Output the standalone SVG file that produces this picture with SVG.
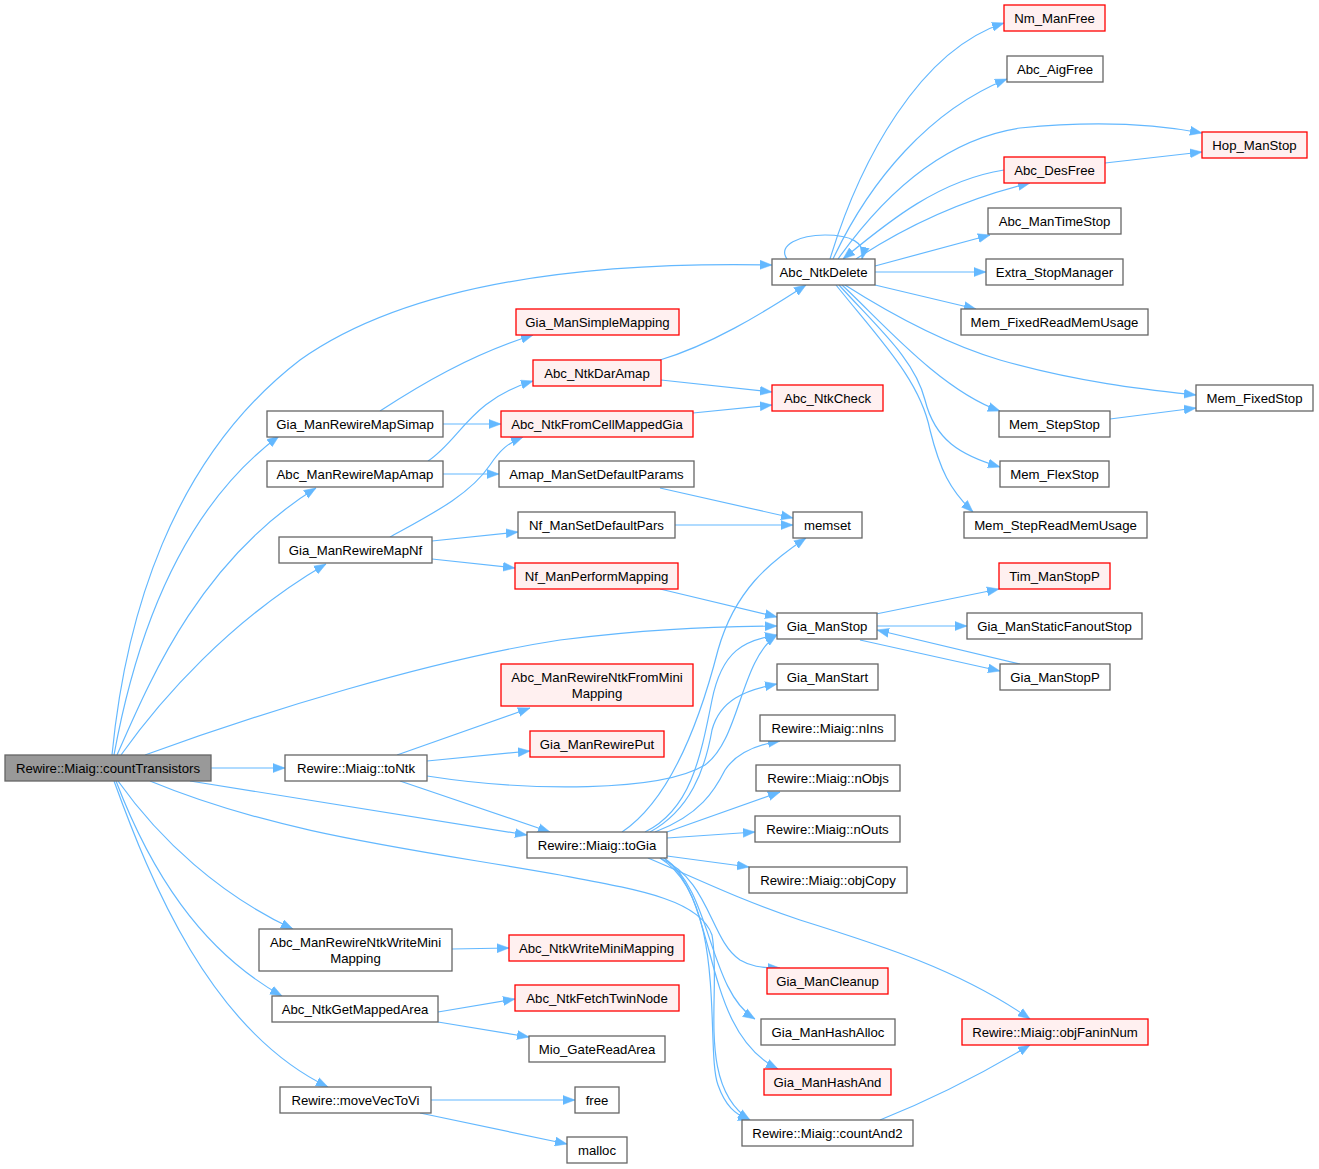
<svg xmlns="http://www.w3.org/2000/svg" width="1319" height="1169" viewBox="0 0 1319 1169">
<style>
.n rect{fill:#ffffff;stroke:#666666;stroke-width:1.3}
.r rect{fill:#fff0f0;stroke:#ff0000;stroke-width:1.3}
.root rect{fill:#999999;stroke:#666666;stroke-width:1.3}
text{font-family:"Liberation Sans",Arial,sans-serif;font-size:13.2px;fill:#000;text-anchor:middle}
.e path{fill:none;stroke:#63b8ff;stroke-width:1.2;marker-end:url(#a)}
</style>
<defs>
<marker id="a" viewBox="0 0 12 10" refX="12" refY="5" markerWidth="12" markerHeight="10" markerUnits="userSpaceOnUse" orient="auto">
<path d="M0,0.5 L12,5 L0,9.5 z" fill="#63b8ff" stroke="#63b8ff" stroke-width="0.5"/>
</marker>
</defs>
<rect width="1319" height="1169" fill="#ffffff"/>
<g class="e" id="edges">
<path d="M112,755 C125,620 170,460 300,360 C420,275 620,262 772,265"/>
<path d="M114,755 C135,640 180,510 279,436"/>
<path d="M117,755 C150,680 200,560 316,488"/>
<path d="M121,755 C160,700 230,620 326,564"/>
<path d="M145,755 C260,713 430,660 560,640 C640,630 700,627 777,626"/>
<path d="M211,768 L285,768"/>
<path d="M190,781 L527,835"/>
<path d="M150,781 C280,835 420,850 560,875 C640,890 700,900 712,935 C722,990 695,1085 750,1120"/>
<path d="M118,781 C160,840 220,895 293,929"/>
<path d="M116,781 C150,870 200,950 282,996"/>
<path d="M114,781 C150,880 210,1030 328,1087"/>
<path d="M380,411 C420,385 470,355 533,335"/>
<path d="M443,424 L501,424"/>
<path d="M428,461 C460,440 470,400 533,381"/>
<path d="M443,474 L499,474"/>
<path d="M390,537 C430,515 470,495 490,465 C500,450 508,443 523,437"/>
<path d="M432,541 L518,532"/>
<path d="M432,559 L515,568"/>
<path d="M660,360 C710,345 760,315 806,285"/>
<path d="M661,380 L772,392"/>
<path d="M693,413 L772,405"/>
<path d="M660,488 L793,518"/>
<path d="M675,525 L793,525"/>
<path d="M660,589 L777,617"/>
<path d="M397,755 L530,708"/>
<path d="M427,761 L530,751"/>
<path d="M427,776 C530,792 660,792 705,765 C740,740 740,660 777,635"/>
<path d="M400,781 L550,832"/>
<path d="M622,832 C670,800 700,720 718,650 C735,590 770,562 806,538"/>
<path d="M645,832 C690,810 700,760 712,700 C722,650 745,640 777,635"/>
<path d="M650,832 C690,810 705,770 712,730 C720,700 745,690 777,684"/>
<path d="M655,832 C700,815 715,790 725,770 C735,755 755,745 780,741"/>
<path d="M667,832 L780,792"/>
<path d="M667,838 L755,832"/>
<path d="M667,856 L749,867"/>
<path d="M660,858 C710,880 710,940 740,960 C750,966 760,968 780,968"/>
<path d="M664,858 C712,890 708,990 755,1019"/>
<path d="M664,858 C720,900 700,1030 778,1069"/>
<path d="M660,858 C728,900 705,1050 718,1085 C725,1105 735,1115 750,1120"/>
<path d="M648,858 C700,880 740,900 800,920 C880,945 960,970 1030,1019"/>
<path d="M876,614 L999,589"/>
<path d="M877,626 L967,626"/>
<path d="M860,640 L1000,671"/>
<path d="M1020,664 L877,630"/>
<path d="M880,1120 C930,1100 980,1075 1030,1045"/>
<path d="M787,259 C777,245 800,235 825,235 C850,235 866,242 862,259"/>
<path d="M830,259 C860,160 920,50 1004,23"/>
<path d="M833,259 C870,180 930,110 1007,79"/>
<path d="M838,259 C880,200 940,140 1020,128 C1100,120 1160,125 1202,133"/>
<path d="M1004,170 C940,180 890,220 843,259"/>
<path d="M856,259 C900,230 960,200 1030,183"/>
<path d="M1105,163 L1202,152"/>
<path d="M875,266 L990,235"/>
<path d="M875,272 L986,272"/>
<path d="M875,285 L976,309"/>
<path d="M845,285 C900,320 950,345 1000,360 C1080,383 1150,390 1196,395"/>
<path d="M842,285 C880,320 940,390 1000,411"/>
<path d="M839,285 C880,330 915,360 925,400 C935,440 960,455 1000,467"/>
<path d="M836,285 C880,340 920,380 930,430 C940,470 950,490 973,512"/>
<path d="M1110,419 L1196,408"/>
<path d="M438,1012 L515,999"/>
<path d="M438,1022 L529,1037"/>
<path d="M452,949 L509,948"/>
<path d="M431,1100 L575,1100"/>
<path d="M420,1113 L567,1144"/>
</g>
<g id="n0" class="root"><rect x="5" y="755" width="206" height="26"/><text x="108" y="772.5">Rewire::Miaig::countTransistors</text></g>
<g id="n1" class="n"><rect x="267" y="411" width="176" height="26"/><text x="355" y="428.5">Gia_ManRewireMapSimap</text></g>
<g id="n2" class="n"><rect x="267" y="461" width="176" height="26"/><text x="355" y="478.5">Abc_ManRewireMapAmap</text></g>
<g id="n3" class="n"><rect x="279" y="537" width="153" height="26"/><text x="355.5" y="554.5">Gia_ManRewireMapNf</text></g>
<g id="n4" class="n"><rect x="285" y="755" width="142" height="26"/><text x="356" y="772.5">Rewire::Miaig::toNtk</text></g>
<g id="n5" class="n"><rect x="259" y="929" width="193" height="42"/><text x="355.5" y="946.5">Abc_ManRewireNtkWriteMini</text><text x="355.5" y="962.5">Mapping</text></g>
<g id="n6" class="n"><rect x="272" y="996" width="166" height="26"/><text x="355" y="1013.5">Abc_NtkGetMappedArea</text></g>
<g id="n7" class="n"><rect x="280" y="1087" width="151" height="26"/><text x="355.5" y="1104.5">Rewire::moveVecToVi</text></g>
<g id="n8" class="r"><rect x="516" y="309" width="163" height="26"/><text x="597.5" y="326.5">Gia_ManSimpleMapping</text></g>
<g id="n9" class="r"><rect x="533" y="360" width="128" height="26"/><text x="597" y="377.5">Abc_NtkDarAmap</text></g>
<g id="n10" class="r"><rect x="501" y="411" width="192" height="26"/><text x="597" y="428.5">Abc_NtkFromCellMappedGia</text></g>
<g id="n11" class="n"><rect x="499" y="461" width="195" height="26"/><text x="596.5" y="478.5">Amap_ManSetDefaultParams</text></g>
<g id="n12" class="n"><rect x="518" y="512" width="157" height="26"/><text x="596.5" y="529.5">Nf_ManSetDefaultPars</text></g>
<g id="n13" class="r"><rect x="515" y="563" width="163" height="26"/><text x="596.5" y="580.5">Nf_ManPerformMapping</text></g>
<g id="n14" class="r"><rect x="501" y="664" width="192" height="42"/><text x="597" y="681.5">Abc_ManRewireNtkFromMini</text><text x="597" y="697.5">Mapping</text></g>
<g id="n15" class="r"><rect x="530" y="731" width="134" height="26"/><text x="597" y="748.5">Gia_ManRewirePut</text></g>
<g id="n16" class="n"><rect x="527" y="832" width="140" height="26"/><text x="597" y="849.5">Rewire::Miaig::toGia</text></g>
<g id="n17" class="r"><rect x="509" y="935" width="175" height="26"/><text x="596.5" y="952.5">Abc_NtkWriteMiniMapping</text></g>
<g id="n18" class="r"><rect x="515" y="985" width="164" height="26"/><text x="597" y="1002.5">Abc_NtkFetchTwinNode</text></g>
<g id="n19" class="n"><rect x="529" y="1036" width="136" height="26"/><text x="597" y="1053.5">Mio_GateReadArea</text></g>
<g id="n20" class="n"><rect x="575" y="1087" width="44" height="26"/><text x="597" y="1104.5">free</text></g>
<g id="n21" class="n"><rect x="567" y="1137" width="60" height="26"/><text x="597" y="1154.5">malloc</text></g>
<g id="n22" class="n"><rect x="772" y="259" width="103" height="26"/><text x="823.5" y="276.5">Abc_NtkDelete</text></g>
<g id="n23" class="r"><rect x="772" y="385" width="111" height="26"/><text x="827.5" y="402.5">Abc_NtkCheck</text></g>
<g id="n24" class="n"><rect x="793" y="512" width="69" height="26"/><text x="827.5" y="529.5">memset</text></g>
<g id="n25" class="n"><rect x="777" y="613" width="100" height="26"/><text x="827" y="630.5">Gia_ManStop</text></g>
<g id="n26" class="n"><rect x="777" y="664" width="101" height="26"/><text x="827.5" y="681.5">Gia_ManStart</text></g>
<g id="n27" class="n"><rect x="760" y="715" width="135" height="26"/><text x="827.5" y="732.5">Rewire::Miaig::nIns</text></g>
<g id="n28" class="n"><rect x="756" y="765" width="144" height="26"/><text x="828" y="782.5">Rewire::Miaig::nObjs</text></g>
<g id="n29" class="n"><rect x="755" y="816" width="145" height="26"/><text x="827.5" y="833.5">Rewire::Miaig::nOuts</text></g>
<g id="n30" class="n"><rect x="749" y="867" width="158" height="26"/><text x="828" y="884.5">Rewire::Miaig::objCopy</text></g>
<g id="n31" class="r"><rect x="767" y="968" width="121" height="26"/><text x="827.5" y="985.5">Gia_ManCleanup</text></g>
<g id="n32" class="n"><rect x="761" y="1019" width="134" height="26"/><text x="828" y="1036.5">Gia_ManHashAlloc</text></g>
<g id="n33" class="r"><rect x="764" y="1069" width="127" height="26"/><text x="827.5" y="1086.5">Gia_ManHashAnd</text></g>
<g id="n34" class="n"><rect x="742" y="1120" width="171" height="26"/><text x="827.5" y="1137.5">Rewire::Miaig::countAnd2</text></g>
<g id="n35" class="r"><rect x="1004" y="5" width="101" height="26"/><text x="1054.5" y="22.5">Nm_ManFree</text></g>
<g id="n36" class="n"><rect x="1007" y="56" width="96" height="26"/><text x="1055" y="73.5">Abc_AigFree</text></g>
<g id="n37" class="r"><rect x="1004" y="157" width="101" height="26"/><text x="1054.5" y="174.5">Abc_DesFree</text></g>
<g id="n38" class="n"><rect x="988" y="208" width="133" height="26"/><text x="1054.5" y="225.5">Abc_ManTimeStop</text></g>
<g id="n39" class="n"><rect x="986" y="259" width="137" height="26"/><text x="1054.5" y="276.5">Extra_StopManager</text></g>
<g id="n40" class="n"><rect x="961" y="309" width="187" height="26"/><text x="1054.5" y="326.5">Mem_FixedReadMemUsage</text></g>
<g id="n41" class="n"><rect x="999" y="411" width="111" height="26"/><text x="1054.5" y="428.5">Mem_StepStop</text></g>
<g id="n42" class="n"><rect x="1000" y="461" width="109" height="26"/><text x="1054.5" y="478.5">Mem_FlexStop</text></g>
<g id="n43" class="n"><rect x="964" y="512" width="183" height="26"/><text x="1055.5" y="529.5">Mem_StepReadMemUsage</text></g>
<g id="n44" class="r"><rect x="999" y="563" width="111" height="26"/><text x="1054.5" y="580.5">Tim_ManStopP</text></g>
<g id="n45" class="n"><rect x="967" y="613" width="175" height="26"/><text x="1054.5" y="630.5">Gia_ManStaticFanoutStop</text></g>
<g id="n46" class="n"><rect x="1000" y="664" width="110" height="26"/><text x="1055" y="681.5">Gia_ManStopP</text></g>
<g id="n47" class="r"><rect x="962" y="1019" width="186" height="26"/><text x="1055" y="1036.5">Rewire::Miaig::objFaninNum</text></g>
<g id="n48" class="r"><rect x="1202" y="132" width="105" height="26"/><text x="1254.5" y="149.5">Hop_ManStop</text></g>
<g id="n49" class="n"><rect x="1196" y="385" width="117" height="26"/><text x="1254.5" y="402.5">Mem_FixedStop</text></g>
</svg>
